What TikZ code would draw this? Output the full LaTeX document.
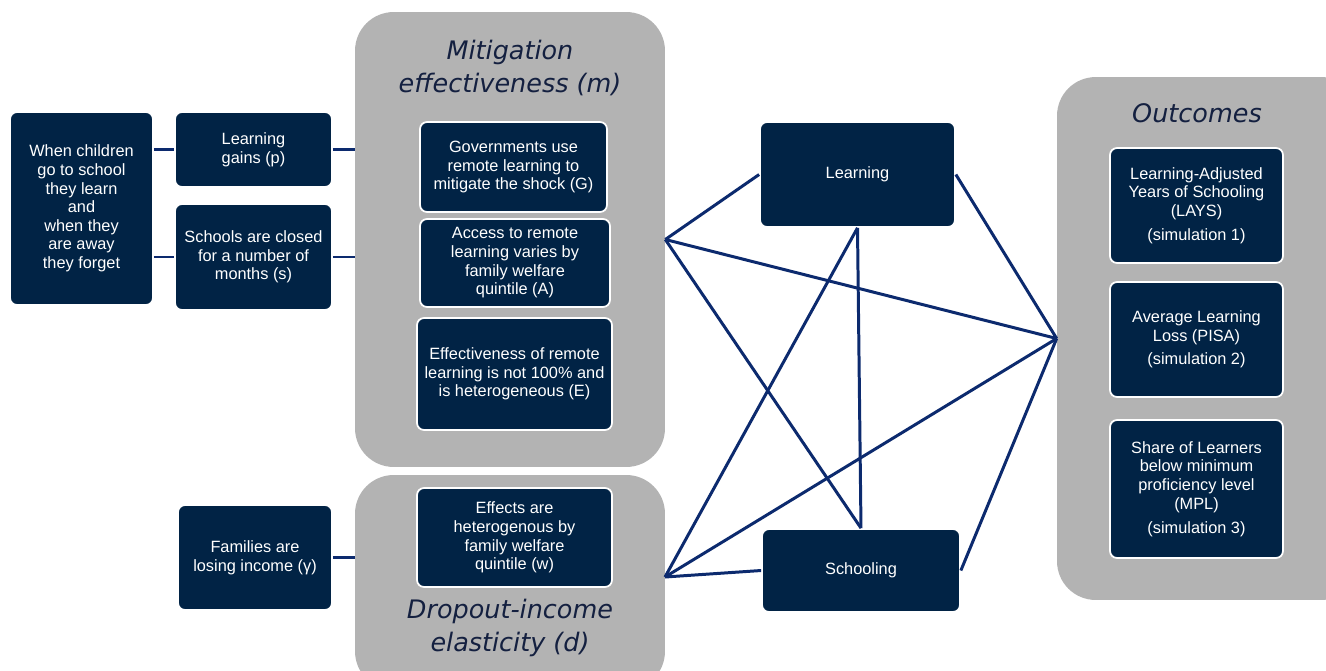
\documentclass[tikz,border=0pt]{standalone}
\usepackage{fontspec}
\setmainfont{Liberation Sans}
\newfontfamily\titlefont{DejaVu Sans}
\definecolor{navy}{HTML}{012345}
\definecolor{linkblue}{HTML}{0C2A6E}
\definecolor{panelgray}{HTML}{B3B3B3}
\definecolor{titlenavy}{HTML}{142040}
\tikzset{
  box/.style={rectangle, rounded corners=4pt, fill=navy, draw=white, line width=1pt,
    text=white, align=center, font=\fontsize{9.3}{10.6}\selectfont, inner sep=2pt},
  panel/.style={rectangle, rounded corners=22pt, fill=panelgray, draw=none},
  heading/.style={text=titlenavy, align=center, font=\titlefont\itshape\fontsize{14.5}{19}\selectfont},
  link/.style={draw=linkblue, line width=1.7pt},
}
\begin{document}
\begin{tikzpicture}[x=0.02cm, y=-0.02cm]
\fill[white] (0,0) rectangle (1326,670);
\useasboundingbox (0,0) rectangle (1326,670);

\node[panel, minimum width=6.2cm, minimum height=9.1cm] (mitig) at (510,239.5) {};
\node[panel, minimum width=6.2cm, minimum height=4.3cm] (drop) at (510,582.5) {};
\node[panel, minimum width=6.06cm, minimum height=10.46cm] (outc) at (1208.5,338.5) {};

\node[heading] (mtitle) at (510,68) {Mitigation\\effectiveness (m)};
\node[heading] (dtitle) at (510,628) {Dropout-income\\elasticity (d)};
\node[heading] (otitle) at (1197,113) {Outcomes};

\node[box, minimum width=2.86cm, minimum height=3.86cm] (child) at (81.5,208.5)
  {When children\\go to school\\they learn\\and\\when they\\are away\\they forget};
\node[box, minimum width=3.14cm, minimum height=1.5cm] (gains) at (253.5,149.5) {Learning\\gains (p)};
\node[box, minimum width=3.14cm, minimum height=2.12cm] (closed) at (253.5,257)
  {Schools are closed\\for a number of\\months (s)};
\node[box, minimum width=3.08cm, minimum height=2.1cm] (income) at (255,557.5)
  {Families are\\losing income (γ)};

\node[box, minimum width=3.74cm, minimum height=1.8cm] (gov) at (513.5,167)
  {Governments use\\remote learning to\\mitigate the shock (G)};
\node[box, minimum width=3.8cm, minimum height=1.76cm] (access) at (515,263)
  {Access to remote\\learning varies by\\family welfare\\quintile (A)};
\node[box, minimum width=3.9cm, minimum height=2.24cm] (effect) at (514.5,374)
  {Effectiveness of remote\\learning is not 100\% and\\is heterogeneous (E)};
\node[box, minimum width=3.9cm, minimum height=1.98cm] (hetero) at (514.5,537.5)
  {Effects are\\heterogenous by\\family welfare\\quintile (w)};

\node[box, minimum width=3.9cm, minimum height=2.1cm] (learn) at (857.5,174.5) {Learning};
\node[box, minimum width=3.96cm, minimum height=1.66cm] (school) at (861,570.5) {Schooling};

\node[box, minimum width=3.46cm, minimum height=2.3cm] (lays) at (1196.5,205.5)
  {Learning-Adjusted\\Years of Schooling\\(LAYS)\\[3pt](simulation 1)};
\node[box, minimum width=3.46cm, minimum height=2.3cm] (pisa) at (1196.5,339.5)
  {Average Learning\\Loss (PISA)\\[3pt](simulation 2)};
\node[box, minimum width=3.46cm, minimum height=2.76cm] (mpl) at (1196.5,489)
  {Share of Learners\\below minimum\\proficiency level\\(MPL)\\[3pt](simulation 3)};

\coordinate (mhub) at (mitig.east);
\coordinate (dhub) at (665,577);
\coordinate (ohub) at (outc.west);

\draw[link] (gains.west -| child.east) -- (gains.west);
\draw[link] (closed.west -| child.east) -- (closed.west);
\draw[link] (gains.east) -- (gains.east -| mitig.west);
\draw[link] (closed.east) -- (closed.east -| mitig.west);
\draw[link] (income.east) -- (income.east -| drop.west);

\draw[link] (mhub) -- (learn.west);
\draw[link] (mhub) -- (school.north);
\draw[link] (mhub) -- (ohub);
\draw[link] (dhub) -- (learn.south);
\draw[link] (dhub) -- (ohub);
\draw[link] (dhub) -- (school.west);
\draw[link] (learn.south) -- (school.north);
\draw[link] (learn.east) -- (ohub);
\draw[link] (school.east) -- (ohub);
\end{tikzpicture}
\end{document}
